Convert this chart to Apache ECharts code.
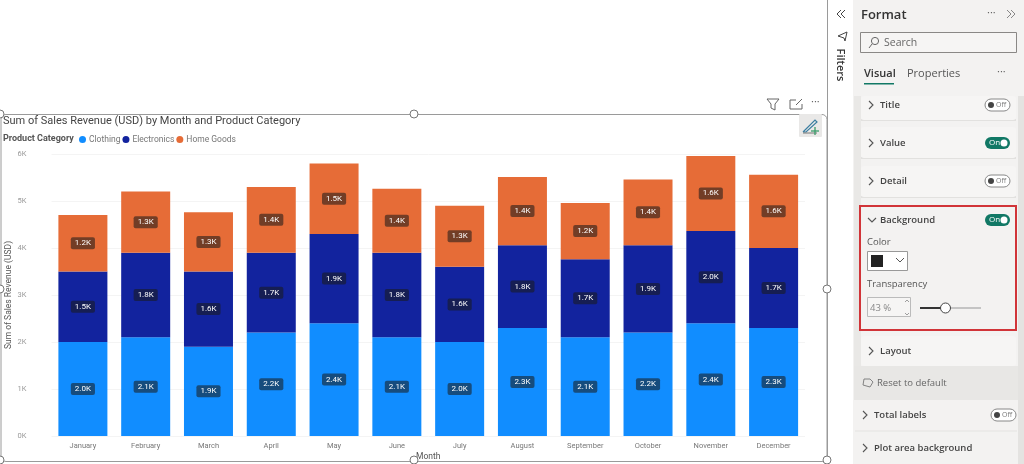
<!DOCTYPE html>
<html><head><meta charset="utf-8">
<style>html,body{margin:0;padding:0;background:#fff}#c{width:1024px;height:464px}</style>
<script src="https://cdn.jsdelivr.net/npm/echarts@6/dist/echarts.min.js"></script>
</head><body><div id="c"></div>
<script>
const months=['January','February','March','April','May','June','July','August','September','October','November','December'];
const clothing=[2000,2100,1900,2200,2400,2100,2000,2300,2100,2200,2400,2300];
const electronics=[1500,1800,1600,1700,1900,1800,1600,1760,1660,1860,1960,1700];
const homeGoods=[1200,1300,1260,1400,1500,1360,1300,1450,1200,1400,1600,1560];
const PF='"Open Sans",sans-serif', CF='Roboto,sans-serif';
const g=[];
const rect=(x,y,w,h,fill,stroke,r,lw,z)=>g.push({type:'rect',silent:true,z:z||1,shape:{x,y,width:w,height:h,r:r||0},style:{fill:fill||'transparent',stroke:stroke||null,lineWidth:lw||1}});
const txt=(x,y,t,size,color,weight,font,extra)=>g.push(Object.assign({type:'text',silent:true,z:5,x,y,style:{text:t,fontSize:size,fill:color||'#444',fontWeight:weight||'normal',fontFamily:font||PF,verticalAlign:'middle',align:'left'}},extra||{}));
const poly=(pts,color,lw,z)=>g.push({type:'polyline',silent:true,z:z||5,shape:{points:pts},style:{stroke:color||'#555',lineWidth:lw||1,fill:null}});
const circ=(x,y,r,fill,stroke,z)=>g.push({type:'circle',silent:true,z:z||6,shape:{cx:x,cy:y,r},style:{fill:fill,stroke:stroke||null,lineWidth:1}});
const chev=(x,y)=>poly([[x,y-4],[x+4,y],[x,y+4]],'#555',1.1);
const toggle=(x,y,on)=>{
  if(on){rect(x,y-6,25,12,'#117865',null,6,1,5);txt(x+4,y,'On',8,'#fff');circ(x+19,y,3.5,'#fff');}
  else{rect(x,y-6,25,12,'#fff','#888',6,1,5);circ(x+6,y,3,'#444');txt(x+11,y,'Off',7,'#777');}
};
const card=(y,h,label,tog,ty)=>{const c=ty||y+h/2;rect(861,y,155,h,'#f6f5f4',null,3,1,2);rect(861,y+h-1,155,2,'#e2e1df',null,0,1,1);
  chev(869,c);txt(880,c,label,9.5,'#444','600');if(tog!==undefined)toggle(985,c,tog);};

// panes
rect(853,0,171,464,'#f3f2f1');
rect(854,366,164,34,'#e8e7e5');
rect(1018,96,6,368,'#e4e3e1',null,0,1,2);
rect(854,96,7,270,'#e9e8e6',null,0,1,1);
poly([[827.5,0],[827.5,464]],'#9a9a9a',1,3);
// filters pane
poly([[841,10],[837,14],[841,18]],'#444',1);poly([[845,10],[841,14],[845,18]],'#444',1);
poly([[847,32],[838,36],[844,38],[845,41],[847,32]],'#444',1);
g.push({type:'text',silent:true,z:5,x:840,y:65,rotation:-Math.PI/2,style:{text:'Filters',fontSize:11,fill:'#333',fontWeight:'600',fontFamily:PF,align:'center',verticalAlign:'middle'}});
// header
txt(861,15,'Format',13,'#333','600');
txt(987,13,'···',11,'#666');
poly([[1007,10],[1011,14],[1007,18]],'#888',1);poly([[1011,10],[1015,14],[1011,18]],'#888',1);
rect(860.5,32.5,156,20,'#f6f5f4','#8a8886',0,1,2);
g.push({type:'circle',silent:true,z:5,shape:{cx:875,cy:41,r:3.6},style:{fill:null,stroke:'#666'}});
poly([[872,44],[869,48]],'#666',1);
txt(884,43,'Search',10.5,'#666');
txt(864,74,'Visual',11,'#333','600');
txt(907,74,'Properties',11,'#555');
rect(864,83,30,1.5,'#117865',null,0,1,3);
txt(997,72,'···',11,'#666');
// cards
card(96,24,'Title',false,105);
card(127,31,'Value',true,143);
card(166,31,'Detail',false,181);
rect(861,207,155,122,'#f3f2f1',null,0,1,2);
rect(860,206,156,124,null,'#d13438',0,2,6);
poly([[868,218],[872,222],[876,218]],'#555',1.1);
txt(880,220,'Background',9.5,'#444','600');
toggle(985,220,true);
txt(867,242,'Color',9.5,'#555');
rect(867.5,251.5,40,19,'#fff','#999',0,1,3);
rect(871,255,12,12,'#222',null,0,1,4);
poly([[896,258],[900,262],[904,258]],'#555',1);
txt(867,284,'Transparency',9.5,'#555');
rect(867.5,297.5,43,19,'#f6f5f4','#bbb',0,1,3);
txt(870,308,'43 %',9.5,'#888');
poly([[905,302],[907,300],[909,302]],'#888',0.8);poly([[905,313],[907,315],[909,313]],'#888',0.8);
poly([[920,308],[946,308]],'#333',2,3);poly([[946,308],[981,308]],'#b5b5b5',1.5,3);
circ(945.5,308,5,'#fff','#444');
rect(861,336,155,30,'#f6f5f4',null,3,1,2);
chev(869,351);txt(880,351,'Layout',9.5,'#444','600');
poly([[864,379],[863,385],[870,387],[873,382],[870,379],[864,379]],'#777',0.9);
txt(877,383,'Reset to default',9.5,'#666');
chev(863,415);txt(874,415,'Total labels',9.5,'#444','600');toggle(991,415,false);
poly([[855,431],[1017,431]],'#e4e3e1',1,2);
chev(863,448);txt(874,448,'Plot area background',9.5,'#444','600');
// selection frame
rect(1,114.5,826,347,null,'#9a9a9a',5,1,3);
[[414,114],[0,114],[827,289],[0,289],[414,460],[827,460],[0,460]].forEach(p=>circ(p[0],p[1],4,'#fff','#777',7));
// visual header icons
poly([[767,99],[779,99],[775,104],[775,110],[771,108],[771,104],[767,99]],'#666',1);
poly([[796,100],[790,100],[790,109],[802,109],[802,104]],'#666',1);poly([[796,105],[802,99]],'#666',1);
txt(811,102,'···',11,'#666');
rect(799,114,23,23,'#e9e8e7',null,1,1,3);
poly([[803,132],[815,120],[817,122],[806,132],[803,132]],'#3b7ea1',1.2);
poly([[803,133],[817,133]],'#777',1);
poly([[815,127],[815,135]],'#3a9c6a',1.3);poly([[811,131],[819,131]],'#3a9c6a',1.3);
// chart texts outside the library's title/legend slots
txt(3,139,'Product Category',9,'#555','bold',CF);

const lab={show:true,position:'inside',color:'#fff',fontSize:8,fontWeight:'normal',fontFamily:CF,
  backgroundColor:'rgba(26,26,26,0.57)',borderRadius:2,padding:[2,4,2,4],
  formatter:p=>(p.value/1000).toFixed(1)+'K'};
const mk=(name,data,color)=>({name,type:'bar',stack:'a',data,barWidth:49,label:lab,itemStyle:{color},emphasis:{disabled:true}});
const chart=echarts.init(document.getElementById('c'),null,{renderer:'canvas'});
chart.setOption({
  animation:false,backgroundColor:'#fff',
  title:{text:'Sum of Sales Revenue (USD) by Month and Product Category',left:3,top:116,padding:0,
    textStyle:{fontSize:11,fontWeight:'normal',color:'#444',fontFamily:CF,letterSpacing:0.25}},
  legend:{left:79,top:135,padding:0,icon:'circle',itemWidth:7,itemHeight:7,itemGap:2,selectedMode:false,
    textStyle:{fontSize:8.5,color:'#777',fontFamily:CF,padding:[0,0,0,-2]},data:['Clothing','Electronics','Home Goods']},
  grid:{left:51.5,right:219,top:154,bottom:28,containLabel:false,outerBoundsMode:'none'},
  xAxis:{type:'category',data:months,name:'Month',nameLocation:'middle',nameGap:16,nameMoveOverlap:false,
    nameTextStyle:{fontSize:8.5,color:'#555',fontFamily:CF},
    axisLine:{show:false},axisTick:{show:false},
    axisLabel:{fontSize:7.5,color:'#777',fontFamily:CF,margin:6,interval:0}},
  yAxis:{type:'value',min:0,max:6000,interval:1000,name:'Sum of Sales Revenue (USD)',nameLocation:'middle',nameGap:38,nameMoveOverlap:false,
    nameTextStyle:{fontSize:8.5,color:'#555',fontFamily:CF},
    axisLine:{show:false},axisTick:{show:false},
    axisLabel:{fontSize:7.5,color:'#999',fontFamily:CF,margin:25,formatter:v=>(v/1000)+'K'},
    splitLine:{lineStyle:{color:'#f4f4f4'}}},
  series:[mk('Clothing',clothing,'#118DFF'),mk('Electronics',electronics,'#12239E'),mk('Home Goods',homeGoods,'#E66C37')],
  graphic:{elements:g}
});
</script></body></html>
